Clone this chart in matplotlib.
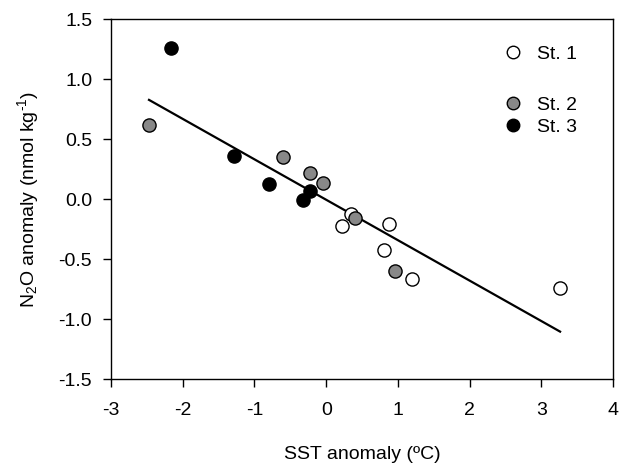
import matplotlib
matplotlib.use("Agg")
import matplotlib.pyplot as plt
import numpy as np
from matplotlib.lines import Line2D

plt.rcParams['font.family'] = ['Liberation Sans', 'DejaVu Sans']
plt.rcParams['mathtext.fontset'] = 'custom'
plt.rcParams['mathtext.rm'] = 'Liberation Sans'
plt.rcParams['mathtext.it'] = 'Liberation Sans:italic'
plt.rcParams['mathtext.bf'] = 'Liberation Sans:bold'

st1_x = [0.34, 0.22, 0.87, 0.81, 1.19, 3.26]
st1_y = [-0.125, -0.22, -0.206, -0.42, -0.664, -0.74]
st2_x = [-2.47, -0.60, -0.22, -0.05, 0.40, 0.96]
st2_y = [0.62, 0.355, 0.217, 0.133, -0.153, -0.60]
st3_x = [-2.16, -1.29, -0.80, -0.32, -0.23]
st3_y = [1.26, 0.36, 0.13, -0.005, 0.07]

fit_x = [-2.47, 3.26]
fit_slope = -0.337
fit_intercept = -0.004

xticks = [-3, -2, -1, 0, 1, 2, 3, 4]
yticks = [-1.5, -1.0, -0.5, 0.0, 0.5, 1.0, 1.5]

FS = 14

fig = plt.figure(figsize=(6.2, 4.68), dpi=100)
ax = fig.add_axes([0.179, 0.1895, 0.81, 0.7693])

fx = np.array(fit_x)
ax.plot(fx, fit_slope * fx + fit_intercept, color='black', lw=1.6, zorder=2)

ms = 90
ax.scatter(st1_x, st1_y, s=ms, facecolor='white', edgecolor='black', linewidth=1.0, zorder=3)
ax.scatter(st2_x, st2_y, s=ms, facecolor='#888888', edgecolor='black', linewidth=1.0, zorder=3)
ax.scatter(st3_x, st3_y, s=ms, facecolor='black', edgecolor='black', linewidth=1.0, zorder=3)

ax.set_xlim(-3, 4)
ax.set_ylim(-1.5, 1.5)
ax.set_xticks(xticks)
ax.set_xticklabels([str(t) for t in xticks])
ax.set_yticks(yticks)
ax.set_yticklabels([f"{t:.1f}" for t in yticks])
ax.tick_params(direction='out', length=5.5, width=1, labelsize=FS, top=False, right=False)
ax.tick_params(axis='x', pad=11)
ax.tick_params(axis='y', pad=8)
for sp in ax.spines.values():
    sp.set_linewidth(1.0)

ax.set_xlabel("SST anomaly (ºC)", fontsize=FS, labelpad=19)
ax.set_ylabel(r"N$_{\mathregular{2}}$O anomaly (nmol kg$^{\text{-1}}$)", fontsize=FS, labelpad=13)

def h(fc):
    return Line2D([], [], marker='o', linestyle='none', markersize=9, markerfacecolor=fc,
                  markeredgecolor='black', markeredgewidth=1.0)

leg1 = ax.legend([h('white')], ['St. 1'], loc='upper left', bbox_to_anchor=(0.76, 0.955),
                 frameon=False, fontsize=FS, handletextpad=0.7, borderpad=0, handlelength=1.1)
ax.add_artist(leg1)
ax.legend([h('#888888'), h('black')], ['St. 2', 'St. 3'], loc='upper left',
          bbox_to_anchor=(0.76, 0.812), frameon=False, fontsize=FS, handletextpad=0.7,
          borderpad=0, handlelength=1.1, labelspacing=0.2)

fig.savefig("out.png", dpi=100)
